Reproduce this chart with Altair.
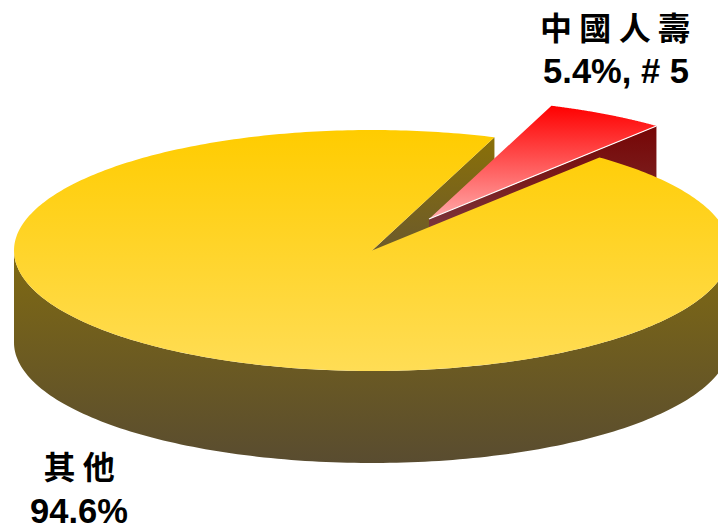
import numpy as np
import pandas as pd
import altair as alt

# Market share by insurer
names = ["中 國 人 壽", "其 他"]
shares = [5.4, 94.6]
rank_note = ", # 5"

WIDTH, HEIGHT = 718, 528
CX, CY = 372.0, 250.5      # centre of the pie's top face
RX, RY = 358.0, 120.5      # radii of the tilted ellipse
DEPTH = 92.0               # thickness of the disc
START = 70.0               # angle where the highlighted slice begins, degrees
EXPLODE = (57.0, -31.5)    # how far the highlighted slice is pulled out


def rim(a0, a1, n=160, dx=0.0, dy=0.0):
    t = np.radians(np.linspace(a0, a1, n))
    return list(CX + dx + RX * np.cos(t)), list(CY + dy - RY * np.sin(t))


def poly(xs, ys):
    return pd.DataFrame({"x": xs, "y": ys, "i": range(len(xs))})


x_scale = alt.Scale(domain=[0, WIDTH], nice=False, zero=False)
y_scale = alt.Scale(domain=[HEIGHT, 0], nice=False, zero=False)


def grad(stops):
    return alt.Gradient(
        gradient="linear", x1=0, y1=0, x2=0, y2=1,
        stops=[alt.GradientStop(offset=o, color=c) for o, c in stops],
    )


def shape(df, stops):
    return alt.Chart(df).mark_line(
        fill=grad(stops), strokeWidth=0, clip=True, interpolate="linear"
    ).encode(
        x=alt.X("x:Q", scale=x_scale, axis=None),
        y=alt.Y("y:Q", scale=y_scale, axis=None),
        order="i:Q",
    )


sweep = shares[0] / 100 * 360
a_hi, a_lo = START, START - sweep
ex, ey = EXPLODE

# Outer wall of the large slice, front half of the disc
wx, wy = rim(180, 360)
wall = poly(wx + wx[::-1], wy + [v + DEPTH for v in wy[::-1]])
wall_layer = shape(wall, [(0, "#806a12"), (1, "#594c30")])

# Cut face of the large slice at the opening
hx = CX + RX * np.cos(np.radians(a_hi))
hy = CY - RY * np.sin(np.radians(a_hi))
cut = poly([CX, hx, hx, CX], [CY, hy, hy + DEPTH, CY + DEPTH])
cut_layer = shape(cut, [(0, "#8a7008"), (0.5, "#6e5c28"), (1, "#5e5030")])

# Highlighted slice: cut face, top face and its bright edge
lx = CX + ex + RX * np.cos(np.radians(a_lo))
ly = CY + ey - RY * np.sin(np.radians(a_lo))
tx, ty = CX + ex, CY + ey
red_wall = poly([tx, lx, lx, tx], [ty, ly, ly + DEPTH, ty + DEPTH])
red_wall_layer = shape(red_wall, [(0, "#760606"), (0.3, "#7a1c1c"), (0.58, "#7a3840"), (1, "#7a3840")])

rx_, ry_ = rim(a_hi, a_lo, dx=ex, dy=ey)
red_top = poly([tx] + rx_ + [tx], [ty] + ry_ + [ty])
red_top_layer = shape(red_top, [(0, "#ff0000"), (1, "#ffaaaa")])

edge_layer = alt.Chart(poly([tx, lx], [ty, ly])).mark_line(
    color="#ffffff", strokeWidth=1.2
).encode(
    x=alt.X("x:Q", scale=x_scale, axis=None),
    y=alt.Y("y:Q", scale=y_scale, axis=None),
    order="i:Q",
)

# Top face of the large slice, running the long way round from the opening
yx, yy = rim(a_hi, a_lo + 360, n=400)
top = poly([CX] + yx + [CX], [CY] + yy + [CY])
top_layer = shape(top, [(0, "#ffcc00"), (1, "#ffdd55")])

labels = pd.DataFrame({
    "x": [615, 616, 79, 79],
    "y": [30, 73, 469, 513],
    "label": [names[0], f"{shares[0]}%{rank_note}", names[1], f"{shares[1]}%"],
    "family": ["Noto Sans CJK TC", "Liberation Sans", "Noto Sans CJK TC", "Liberation Sans"],
})


def text_layer(df, family, size, weight):
    return alt.Chart(df).mark_text(
        font=family, fontSize=size, fontWeight=weight, color="#000000",
        align="center", baseline="middle",
    ).encode(
        x=alt.X("x:Q", scale=x_scale, axis=None),
        y=alt.Y("y:Q", scale=y_scale, axis=None),
        text="label:N",
    )


cjk = text_layer(labels[labels.family == "Noto Sans CJK TC"], "Noto Sans CJK TC", 32, 700)
latin = text_layer(labels[labels.family == "Liberation Sans"], "Liberation Sans", 34.5, 700)

chart = alt.layer(
    wall_layer, cut_layer, red_wall_layer, red_top_layer, edge_layer, top_layer, cjk, latin
).properties(
    width=WIDTH, height=HEIGHT, padding=0,
    autosize=alt.AutoSizeParams(type="none"),
    background="#ffffff",
).configure_view(stroke=None)

chart.save("out.html", embed_options={"renderer": "svg", "actions": False})
